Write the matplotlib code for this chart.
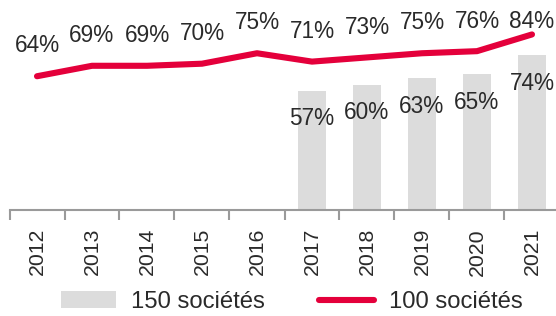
import matplotlib
matplotlib.use("Agg")
import matplotlib.pyplot as plt
import numpy as np
from matplotlib.ticker import FixedLocator

years = ["2012", "2013", "2014", "2015", "2016", "2017", "2018", "2019", "2020", "2021"]
line_vals = [64, 69, 69, 70, 75, 71, 73, 75, 76, 84]
bar_years = ["2017", "2018", "2019", "2020", "2021"]
bar_vals = [57, 60, 63, 65, 74]
bar_name = "150 sociétés"
line_name = "100 sociétés"

RED = "#E4003B"
GRAY = "#DCDCDC"
AXIS = "#9A9A9A"
TXT = "#2a2a2a"
FS = 16.3
TFS = 15.3
LFS = 17.2

plt.rcParams["font.family"] = ["Liberation Sans", "DejaVu Sans"]

fig = plt.figure(figsize=(5.56, 3.16), dpi=100)
ax = fig.add_axes([9.5 / 556, (316 - 210) / 316, 550 / 556, 209 / 316])

x = np.arange(len(years))
bx = np.array([years.index(y) for y in bar_years])

bars = ax.bar(bx, bar_vals, width=0.5, color=GRAY, label=bar_name, zorder=1)
ln, = ax.plot(x, line_vals, color=RED, lw=4.4, solid_capstyle="round",
              solid_joinstyle="round", label=line_name, zorder=3)

for xi, v in zip(x, line_vals):
    ax.text(xi, min(v + 14.5, 90), f"{v}%", ha="center", va="center",
            fontsize=FS, color=TXT, zorder=4)
for xi, v in zip(bx, bar_vals):
    ax.text(xi, v - 13.4, f"{v}%", ha="center", va="center",
            fontsize=FS, color=TXT, zorder=4)

ax.set_xlim(-0.5, len(years) - 0.5)
ax.set_ylim(0, 100)
ax.set_yticks([])
for s in ["top", "right", "left"]:
    ax.spines[s].set_visible(False)
ax.spines["bottom"].set_color(AXIS)
ax.spines["bottom"].set_linewidth(1.5)

ax.set_xticks(x)
ax.set_xticklabels(years, rotation=90, fontsize=TFS, color=TXT)
ax.tick_params(axis="x", which="major", length=0, pad=13)
ax.xaxis.set_minor_locator(FixedLocator(np.arange(-0.5, len(years), 1.0)))
ax.tick_params(axis="x", which="minor", length=7, width=1.5, color=AXIS)

fig.legend(handles=[bars, ln], labels=[bar_name, line_name], loc="center",
           bbox_to_anchor=(0.525, 0.044), ncol=2, frameon=False,
           fontsize=LFS, handlelength=2.3, handletextpad=0.6,
           columnspacing=2.3, labelcolor=TXT)

fig.savefig("out.png", dpi=100)
